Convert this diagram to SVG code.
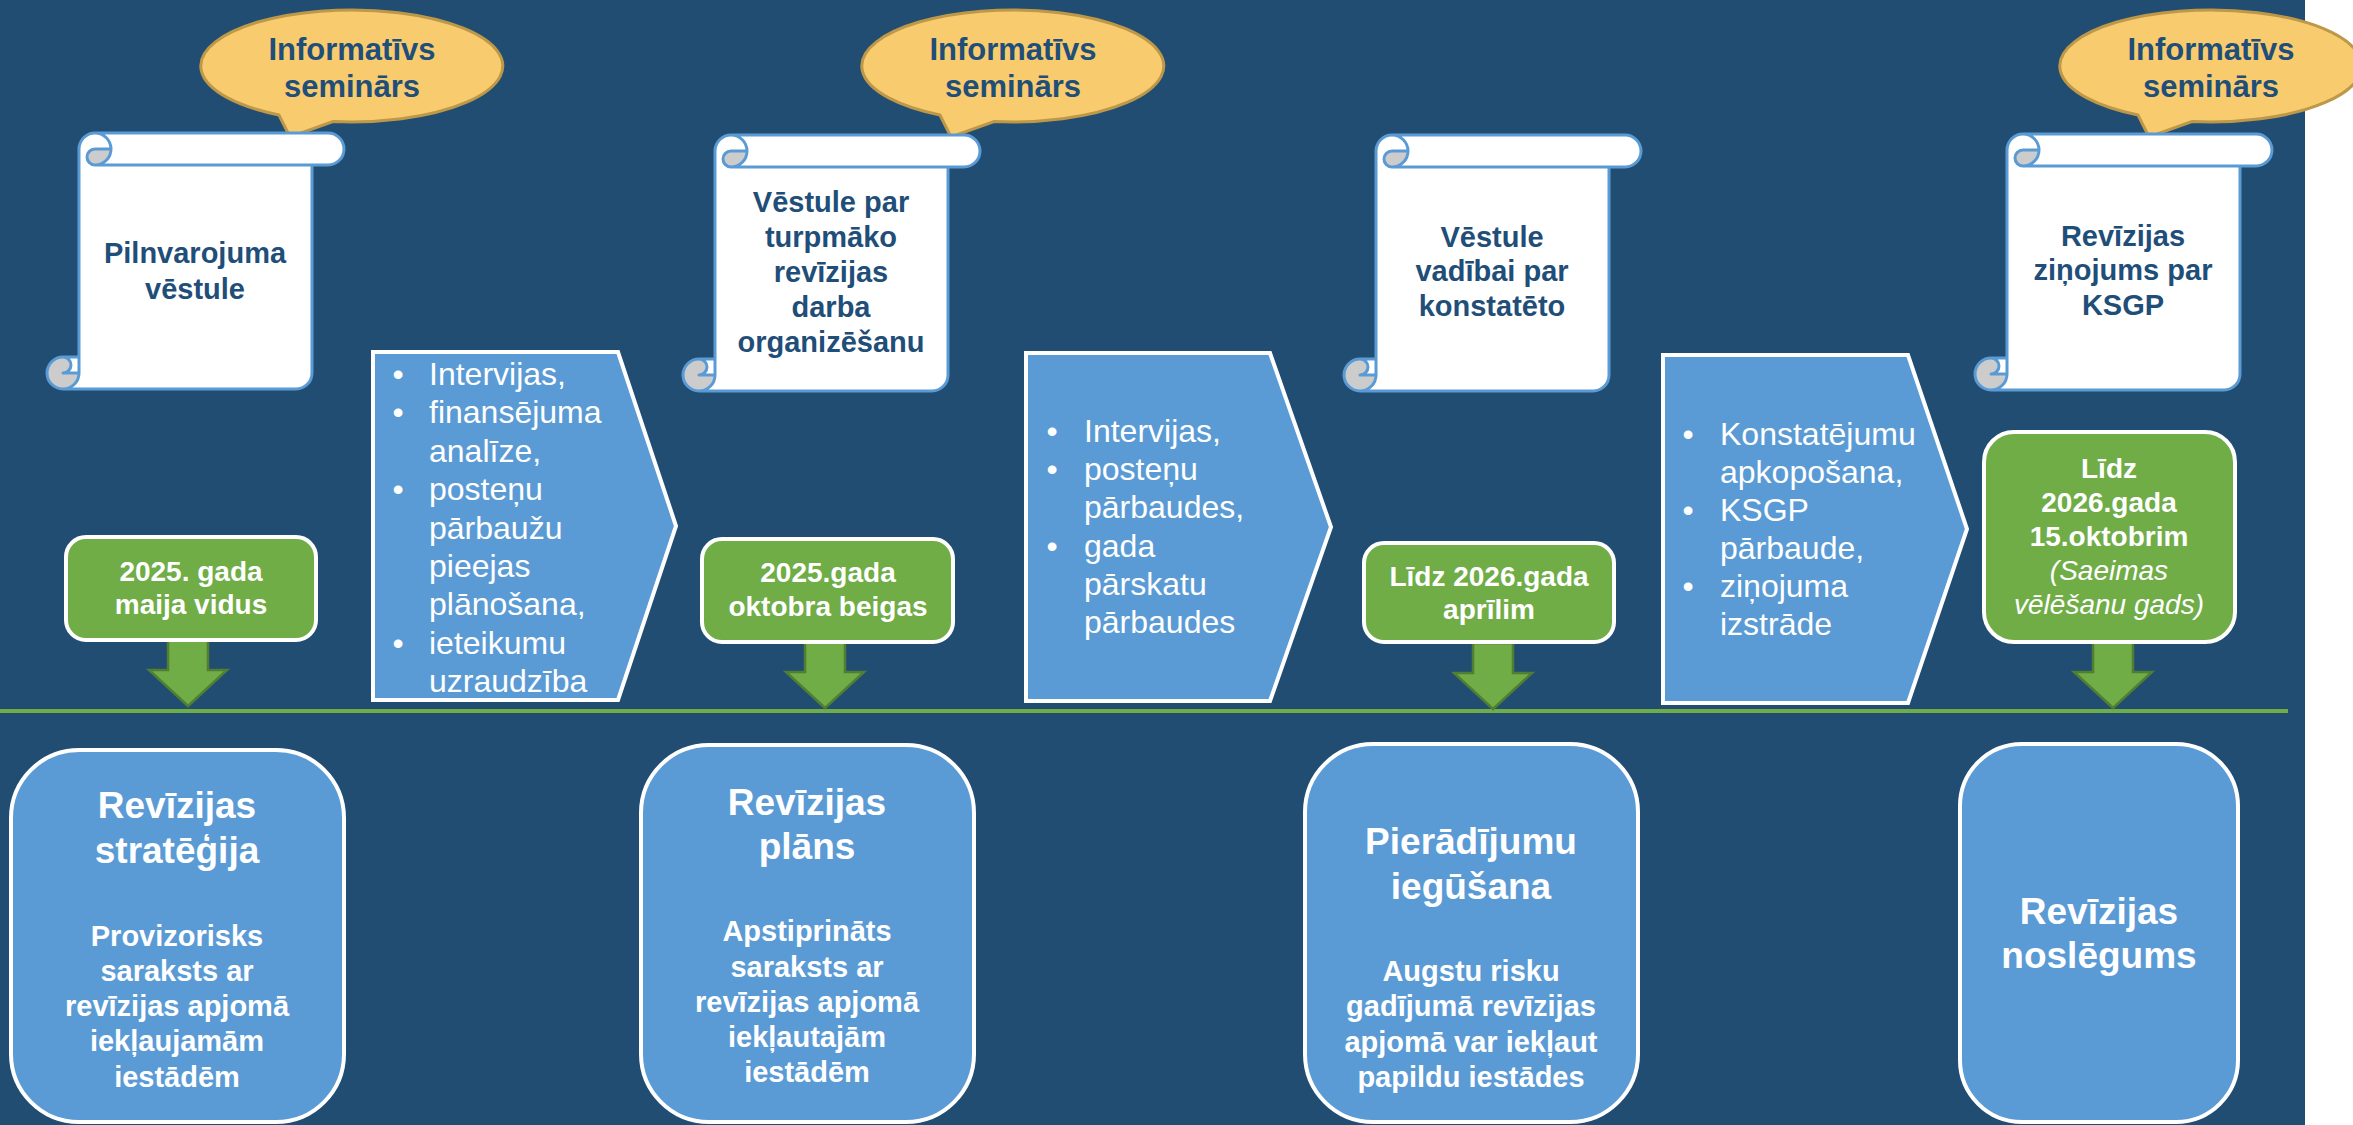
<svg xmlns="http://www.w3.org/2000/svg" width="2353" height="1125" viewBox="0 0 2353 1125">
<style>
text{font-family:"Liberation Sans",Arial,sans-serif}
.dk{fill:#1F4E79;font-weight:bold;text-anchor:middle}
.cl{font-size:31px}
.sc{font-size:29px}
.wb{fill:#fff;font-weight:bold;text-anchor:middle}
.gt{font-size:28px}
.it{fill:#fff;font-style:italic;font-size:28px;text-anchor:middle}
.tt{font-size:37px}
.st{font-size:29px}
.wr{fill:#fff;font-size:32px}
.bu{fill:#fff;font-size:32px;text-anchor:middle}
.call{fill:#F8CB6F;stroke:#BC9848;stroke-width:3}
.scw{fill:#fff}
.scg{fill:#CCCCCC}
.scs{fill:none;stroke:#5B9BD5;stroke-width:3;stroke-linejoin:round}
.chev{fill:#5B9BD5;stroke:#fff;stroke-width:4}
.gbox{fill:#70AD47;stroke:#fff;stroke-width:4}
.arr{fill:#70AD47;stroke:#507E32;stroke-width:2.5}
.bbox{fill:#5B9BD5;stroke:#fff;stroke-width:4}
</style>
<defs>
<path id="callout" d="M-74,49 A151 56 0 1 1 -20,55.5 L-63,71 Z"/>
<g id="scroll">
<path class="scw" d="M32,224 L32,16 A16 16 0 0 1 48,0 L281,0 A16 16 0 0 1 281,32 L265,32 L265,240 A16 16 0 0 1 249,256 L16,256 A16 16 0 0 1 16,224 Z"/>
<path class="scg" d="M64,16 A16 16 0 0 1 48,32 A8 8 0 0 1 48,16 Z"/>
<path class="scg" d="M32,240 A16 16 0 1 1 16,224 A8 8 0 0 1 16,240 Z"/>
<path class="scs" d="M32,224 L32,16 A16 16 0 0 1 48,0 L281,0 A16 16 0 0 1 281,32 L265,32 L265,240 A16 16 0 0 1 249,256 L16,256 A16 16 0 0 1 16,224 Z M48,0 A16 16 0 0 1 48,32 A8 8 0 0 1 48,16 L64,16 M265,32 L48,32 M16,224 A8 8 0 0 1 16,240 L32,240 M16,256 A16 16 0 0 0 32,240 L32,224"/>
</g>
<path id="arrow" d="M-20,0 L20,0 L20,30 L39,30 L0,66 L-39,30 L-20,30 Z"/>
</defs>

<rect x="0" y="0" width="2353" height="1125" fill="#fff"/>
<rect x="0" y="0" width="2305" height="1125" fill="#214D73"/>

<g id="connectors">
<line x1="0" y1="711" x2="2288" y2="711" stroke="#70AD47" stroke-width="4"/>
<use href="#arrow" class="arr" x="188" y="640"/>
<use href="#arrow" class="arr" x="825" y="642"/>
<use href="#arrow" class="arr" x="1493" y="643"/>
<use href="#arrow" class="arr" x="2113" y="642"/>
</g>

<g id="seminar1">
<use href="#callout" class="call" x="353" y="66"/>
<text class="dk cl" x="352" y="60">Informatīvs</text>
<text class="dk cl" x="352" y="97">seminārs</text>
</g>
<g id="seminar2">
<use href="#callout" class="call" x="1014" y="66"/>
<text class="dk cl" x="1013" y="60">Informatīvs</text>
<text class="dk cl" x="1013" y="97">seminārs</text>
</g>
<g id="seminar3">
<use href="#callout" class="call" x="2212" y="66"/>
<text class="dk cl" x="2211" y="60">Informatīvs</text>
<text class="dk cl" x="2211" y="97">seminārs</text>
</g>

<g id="scroll1">
<use href="#scroll" x="47" y="133"/>
<text class="dk sc" x="195" y="263">Pilnvarojuma</text>
<text class="dk sc" x="195" y="299">vēstule</text>
</g>
<g id="scroll2">
<use href="#scroll" x="683" y="135"/>
<text class="dk sc" x="831" y="212">Vēstule par</text>
<text class="dk sc" x="831" y="247">turpmāko</text>
<text class="dk sc" x="831" y="282">revīzijas</text>
<text class="dk sc" x="831" y="317">darba</text>
<text class="dk sc" x="831" y="352">organizēšanu</text>
</g>
<g id="scroll3">
<use href="#scroll" x="1344" y="135"/>
<text class="dk sc" x="1492" y="247">Vēstule</text>
<text class="dk sc" x="1492" y="281">vadībai par</text>
<text class="dk sc" x="1492" y="316">konstatēto</text>
</g>
<g id="scroll4">
<use href="#scroll" x="1975" y="134"/>
<text class="dk sc" x="2123" y="246">Revīzijas</text>
<text class="dk sc" x="2123" y="280">ziņojums par</text>
<text class="dk sc" x="2123" y="315">KSGP</text>
</g>

<g id="chevron1">
<path class="chev" d="M373,352 L618,352 L676,526 L618,700 L373,700 Z"/>
<text class="bu" x="398"><tspan x="398" y="385">•</tspan><tspan x="398" y="423">•</tspan><tspan x="398" y="500">•</tspan><tspan x="398" y="654">•</tspan></text>
<text class="wr"><tspan x="429" y="385">Intervijas,</tspan><tspan x="429" y="423">finansējuma</tspan><tspan x="429" y="462">analīze,</tspan><tspan x="429" y="500">posteņu</tspan><tspan x="429" y="539">pārbaužu</tspan><tspan x="429" y="577">pieejas</tspan><tspan x="429" y="615">plānošana,</tspan><tspan x="429" y="654">ieteikumu</tspan><tspan x="429" y="692">uzraudzība</tspan></text>
</g>
<g id="chevron2">
<path class="chev" d="M1026,353 L1270,353 L1331,527 L1270,701 L1026,701 Z"/>
<text class="bu"><tspan x="1052" y="442">•</tspan><tspan x="1052" y="480">•</tspan><tspan x="1052" y="557">•</tspan></text>
<text class="wr"><tspan x="1084" y="442">Intervijas,</tspan><tspan x="1084" y="480">posteņu</tspan><tspan x="1084" y="518">pārbaudes,</tspan><tspan x="1084" y="557">gada</tspan><tspan x="1084" y="595">pārskatu</tspan><tspan x="1084" y="633">pārbaudes</tspan></text>
</g>
<g id="chevron3">
<path class="chev" d="M1663,355 L1908,355 L1967,529 L1908,703 L1663,703 Z"/>
<text class="bu"><tspan x="1688" y="445">•</tspan><tspan x="1688" y="521">•</tspan><tspan x="1688" y="597">•</tspan></text>
<text class="wr"><tspan x="1720" y="445">Konstatējumu</tspan><tspan x="1720" y="483">apkopošana,</tspan><tspan x="1720" y="521">KSGP</tspan><tspan x="1720" y="559">pārbaude,</tspan><tspan x="1720" y="597">ziņojuma</tspan><tspan x="1720" y="635">izstrāde</tspan></text>
</g>

<g id="date1">
<rect class="gbox" x="66" y="537" width="250" height="103" rx="20"/>
<text class="wb gt" x="191" y="581">2025. gada</text>
<text class="wb gt" x="191" y="614">maija vidus</text>
</g>
<g id="date2">
<rect class="gbox" x="702" y="539" width="251" height="103" rx="20"/>
<text class="wb gt" x="828" y="582">2025.gada</text>
<text class="wb gt" x="828" y="616">oktobra beigas</text>
</g>
<g id="date3">
<rect class="gbox" x="1364" y="543" width="250" height="99" rx="20"/>
<text class="wb gt" x="1489" y="586">Līdz 2026.gada</text>
<text class="wb gt" x="1489" y="619">aprīlim</text>
</g>
<g id="date4">
<rect class="gbox" x="1984" y="432" width="251" height="210" rx="30"/>
<text class="wb gt" x="2109" y="478">Līdz</text>
<text class="wb gt" x="2109" y="512">2026.gada</text>
<text class="wb gt" x="2109" y="546">15.oktobrim</text>
<text class="it" x="2109" y="580">(Saeimas</text>
<text class="it" x="2109" y="614">vēlēšanu gads)</text>
</g>

<g id="phase1">
<rect class="bbox" x="11" y="750" width="333" height="372" rx="68"/>
<text class="wb tt" x="177" y="818">Revīzijas</text>
<text class="wb tt" x="177" y="863">stratēģija</text>
<text class="wb st" x="177" y="946">Provizorisks</text>
<text class="wb st" x="177" y="981">saraksts ar</text>
<text class="wb st" x="177" y="1016">revīzijas apjomā</text>
<text class="wb st" x="177" y="1051">iekļaujamām</text>
<text class="wb st" x="177" y="1087">iestādēm</text>
</g>
<g id="phase2">
<rect class="bbox" x="641" y="745" width="333" height="377" rx="68"/>
<text class="wb tt" x="807" y="815">Revīzijas</text>
<text class="wb tt" x="807" y="859">plāns</text>
<text class="wb st" x="807" y="941">Apstiprināts</text>
<text class="wb st" x="807" y="977">saraksts ar</text>
<text class="wb st" x="807" y="1012">revīzijas apjomā</text>
<text class="wb st" x="807" y="1047">iekļautajām</text>
<text class="wb st" x="807" y="1082">iestādēm</text>
</g>
<g id="phase3">
<rect class="bbox" x="1305" y="744" width="333" height="378" rx="68"/>
<text class="wb tt" x="1471" y="854">Pierādījumu</text>
<text class="wb tt" x="1471" y="899">iegūšana</text>
<text class="wb st" x="1471" y="981">Augstu risku</text>
<text class="wb st" x="1471" y="1016">gadījumā revīzijas</text>
<text class="wb st" x="1471" y="1052">apjomā var iekļaut</text>
<text class="wb st" x="1471" y="1087">papildu iestādes</text>
</g>
<g id="phase4">
<rect class="bbox" x="1960" y="744" width="278" height="378" rx="62"/>
<text class="wb tt" x="2099" y="924">Revīzijas</text>
<text class="wb tt" x="2099" y="968">noslēgums</text>
</g>
</svg>
